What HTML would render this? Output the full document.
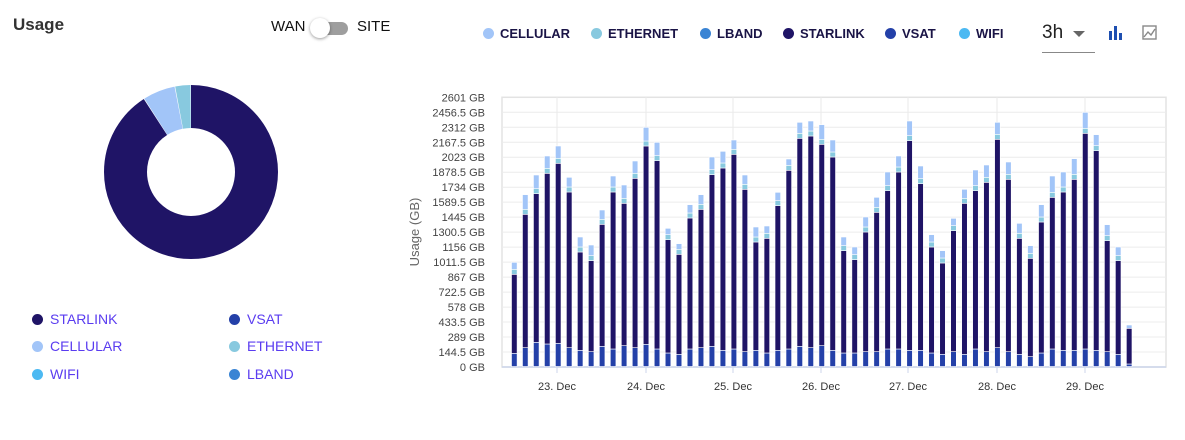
<!DOCTYPE html>
<html><head><meta charset="utf-8"><style>
body{margin:0;background:#fff;width:1185px;height:440px;overflow:hidden;font-family:"Liberation Sans",sans-serif;position:relative}
.a{position:absolute;white-space:nowrap}
.lg{font-size:14px;color:#5a3cf0}
.dot{position:absolute;width:11px;height:11px;border-radius:50%}
.tl{font-size:13px;font-weight:bold;color:#1a1446}
</style></head><body>
<div class="a" style="left:13px;top:15px;font-size:17px;font-weight:bold;color:#333">Usage</div>
<div class="a" style="left:271px;top:18px;font-size:15px;color:#111">WAN</div>
<div class="a" style="left:312px;top:22px;width:36px;height:13px;border-radius:7px;background:#9e9e9e"></div>
<div class="a" style="left:310px;top:18px;width:20px;height:20px;border-radius:50%;background:#fff;box-shadow:0 1px 3px rgba(0,0,0,.4)"></div>
<div class="a" style="left:357px;top:18px;font-size:15px;color:#111">SITE</div>

<svg class="a" style="left:0;top:0" width="400" height="300">
<g transform="rotate(-90 191 172)" fill="none" stroke-width="43">
<circle cx="191" cy="172" r="65.5" stroke="#1f1466" stroke-dasharray="373.8 411.5"/>
<circle cx="191" cy="172" r="65.5" stroke="#a2c5f8" stroke-dasharray="0 374.3 24.6 411.5"/>
<circle cx="191" cy="172" r="65.5" stroke="#88c9df" stroke-dasharray="0 399.4 11.6 411.5"/>
</g></svg>

<div class="dot" style="left:32px;top:314px;background:#1f1466"></div><div class="a lg" style="left:50px;top:311px">STARLINK</div>
<div class="dot" style="left:32px;top:341px;background:#a2c5f8"></div><div class="a lg" style="left:50px;top:338px">CELLULAR</div>
<div class="dot" style="left:32px;top:369px;background:#4cb9f2"></div><div class="a lg" style="left:50px;top:366px">WIFI</div>
<div class="dot" style="left:229px;top:314px;background:#2440a8"></div><div class="a lg" style="left:247px;top:311px">VSAT</div>
<div class="dot" style="left:229px;top:341px;background:#88c9df"></div><div class="a lg" style="left:247px;top:338px">ETHERNET</div>
<div class="dot" style="left:229px;top:369px;background:#3a84d4"></div><div class="a lg" style="left:247px;top:366px">LBAND</div>

<div class="dot" style="left:483px;top:28px;background:#a2c5f8"></div><div class="a tl" style="left:500px;top:26px">CELLULAR</div>
<div class="dot" style="left:591px;top:28px;background:#88c9df"></div><div class="a tl" style="left:608px;top:26px">ETHERNET</div>
<div class="dot" style="left:700px;top:28px;background:#3a84d4"></div><div class="a tl" style="left:717px;top:26px">LBAND</div>
<div class="dot" style="left:783px;top:28px;background:#1f1466"></div><div class="a tl" style="left:800px;top:26px">STARLINK</div>
<div class="dot" style="left:885px;top:28px;background:#2440a8"></div><div class="a tl" style="left:902px;top:26px">VSAT</div>
<div class="dot" style="left:959px;top:28px;background:#4cb9f2"></div><div class="a tl" style="left:976px;top:26px">WIFI</div>

<div class="a" style="left:1042px;top:22px;font-size:19px;color:#222">3h</div>
<div class="a" style="left:1073px;top:31px;width:0;height:0;border-left:6px solid transparent;border-right:6px solid transparent;border-top:6px solid #666"></div>
<div class="a" style="left:1042px;top:52px;width:53px;height:1px;background:#888"></div>
<svg class="a" style="left:1108px;top:25px" width="16" height="16"><rect x="1" y="6" width="3" height="9" fill="#1e4fb0"/><rect x="6" y="1" width="3" height="14" fill="#1e4fb0"/><rect x="11" y="8" width="3" height="7" fill="#1e4fb0"/></svg>
<svg class="a" style="left:1142px;top:25px" width="16" height="16"><rect x="1" y="1" width="13" height="13" fill="none" stroke="#888" stroke-width="1.4"/><polyline points="2,12 6,7 9,10 13,4" fill="none" stroke="#888" stroke-width="1.4"/></svg>

<svg id="ch" class="a" style="left:0;top:0" width="1185" height="440"></svg>
<script>
(function(){
var s='';
var pt=97.3,pb=367,x0=502,x1=1166;
s+='<rect x="'+x0+'" y="'+pt+'" width="'+(x1-x0)+'" height="'+(pb-pt)+'" fill="none" stroke="#e3e3e3" stroke-width="1.5"/>';
var labs=["2601 GB","2456.5 GB","2312 GB","2167.5 GB","2023 GB","1878.5 GB","1734 GB","1589.5 GB","1445 GB","1300.5 GB","1156 GB","1011.5 GB","867 GB","722.5 GB","578 GB","433.5 GB","289 GB","144.5 GB","0 GB"];
for(var k=0;k<19;k++){var y=pt+k*(pb-pt)/18;
 if(k>0&&k<18)s+='<line x1="'+x0+'" x2="'+x1+'" y1="'+y+'" y2="'+y+'" stroke="#ececec" stroke-width="1"/>';
 s+='<text x="485" y="'+(y+4)+'" text-anchor="end" font-size="11" fill="#444" font-family="Liberation Sans">'+labs[k]+'</text>';}
s+='<line x1="'+x0+'" x2="'+x1+'" y1="'+pb+'" y2="'+pb+'" stroke="#ccd6eb" stroke-width="1.5"/>';
s+='<text transform="translate(419,232) rotate(-90)" text-anchor="middle" font-size="13" fill="#666" font-family="Liberation Sans">Usage (GB)</text>';
var dx=[557,646,733,821,908,997,1085];
for(var i=0;i<7;i++){s+='<line x1="'+dx[i]+'" x2="'+dx[i]+'" y1="'+pt+'" y2="'+pb+'" stroke="#eaeaea"/><line x1="'+dx[i]+'" x2="'+dx[i]+'" y1="'+pb+'" y2="'+(pb+6)+'" stroke="#ccd6eb"/>';
 s+='<text x="'+dx[i]+'" y="390" text-anchor="middle" font-size="11" fill="#333" font-family="Liberation Sans">'+(23+i)+'. Dec</text>';}
var d=[[517,553,790],[314,373,773],[255,311,757],[198,250,762],[168,220,760],[262,306,773],[441,486,781],[465,512,785],[360,403,769],[258,306,777],[285,340,767],[213,265,773],[112,168,763],[157,212,777],[415,449,789],[461,493,793],[344,384,777],[314,358,773],[201,254,769],[184,234,781],[150,193,777],[255,298,785],[411,456,781],[408,445,789],[307,347,781],[207,241,777],[97,145,769],[93,138,773],[104,163,767],[150,201,781],[441,482,789],[471,509,789],[381,426,785],[322,367,785],[246,302,777],[198,246,777],[93,152,781],[228,281,781],[434,471,789],[482,519,793],[385,422,785],[298,340,793],[240,302,777],[225,277,785],[97,148,773],[216,268,785],[400,445,793],[467,505,800],[344,396,789],[258,322,777],[246,306,781],[206,268,781],[67,130,777],[134,182,781],[404,452,785],[471,512,793],[705,715,822]];
for(var i=0;i<d.length;i++){
 var cx=514.3+i*10.98,w=5.6,x=cx-w/2;
 var t=90+d[i][0]/3,st=90+d[i][1]/3,v=90+d[i][2]/3,b=pb-0.5;
 var et=st-5; if(et<t+2)et=t+2;
 if(i==56){et=st;}
 s+='<rect x="'+x+'" y="'+v+'" width="'+w+'" height="'+(b-v)+'" fill="#2440a8" stroke="#fff" stroke-width="0.6"/>';
 s+='<rect x="'+x+'" y="'+st+'" width="'+w+'" height="'+(v-st)+'" fill="#1f1466" stroke="#fff" stroke-width="0.6"/>';
 if(et>t+0.5){s+='<rect x="'+x+'" y="'+et+'" width="'+w+'" height="'+(st-et)+'" fill="#88c9df" stroke="#fff" stroke-width="0.6"/>';
 s+='<rect x="'+x+'" y="'+t+'" width="'+w+'" height="'+(et-t)+'" fill="#a2c5f8" stroke="#fff" stroke-width="0.6"/>';}
 else s+='<rect x="'+x+'" y="'+t+'" width="'+w+'" height="'+(st-t)+'" fill="#a2c5f8" stroke="#fff" stroke-width="0.6"/>';
}
document.getElementById('ch').innerHTML=s;
})();
</script>
</body></html>
